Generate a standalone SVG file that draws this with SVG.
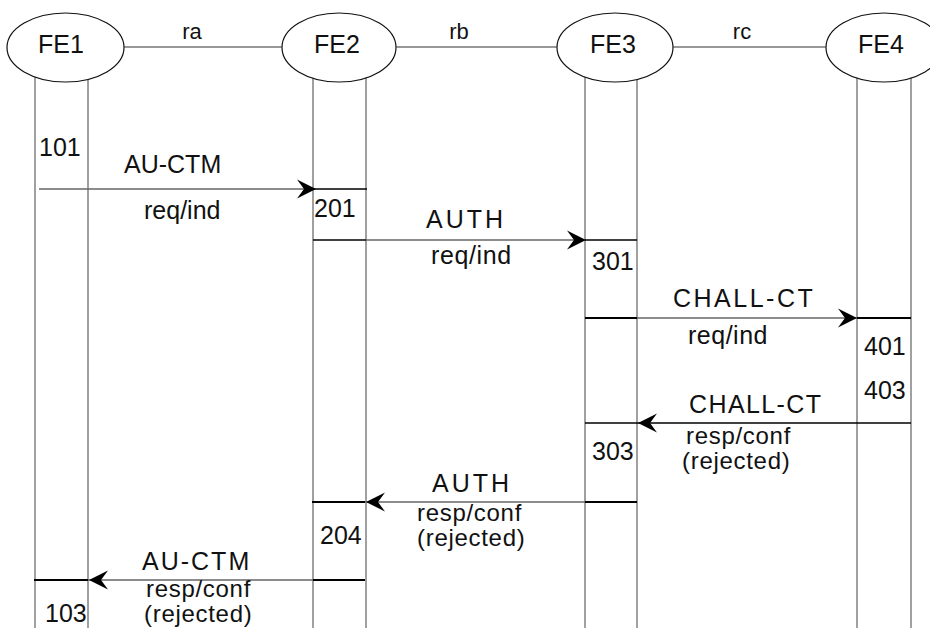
<svg xmlns="http://www.w3.org/2000/svg" width="930" height="628" viewBox="0 0 930 628">
  <style>
    text { font-family: "Liberation Sans", Arial, sans-serif; fill: #111; }
    .lbl { font-size: 25px; }
    .sm { font-size: 24px; letter-spacing: 0.7px; }
    .num { font-size: 25px; }
    .ref { font-size: 22px; text-anchor: middle; }
    .fe { font-size: 25px; text-anchor: middle; }
    .life { stroke: #808080; stroke-width: 1.5; fill: none; }
    .ell { fill: #fff; stroke: #111; stroke-width: 1.2; }
    .link { stroke: #333; stroke-width: 1.2; fill: none; }
    .msg { stroke: #666; stroke-width: 1.5; fill: none; }
    .blk { stroke: #000; stroke-width: 1.4; fill: none; }
    .blkw { stroke: #000; stroke-width: 2.2; fill: none; }
  </style>
  <defs>
    <path id="ahR" d="M0,0 L-19,-9.5 L-12,0 L-19,9.5 Z" fill="#000"/>
    <path id="ahL" d="M0,0 L19,-9.5 L12,0 L19,9.5 Z" fill="#000"/>
  </defs>
  <rect width="930" height="628" fill="#fff"/>

  <g id="FE1">
    <line class="life" x1="35" y1="70" x2="35" y2="628"/>
    <line class="life" x1="88" y1="70" x2="88" y2="628"/>
    <ellipse class="ell" cx="65.5" cy="47.5" rx="58.5" ry="34.5"/>
    <text class="fe" x="61" y="52.5">FE1</text>
  </g>
  <g id="FE2">
    <line class="life" x1="313" y1="70" x2="313" y2="628"/>
    <line class="life" x1="366" y1="70" x2="366" y2="628"/>
    <ellipse class="ell" cx="339" cy="47.5" rx="57" ry="34.5"/>
    <text class="fe" x="337" y="52.5">FE2</text>
  </g>
  <g id="FE3">
    <line class="life" x1="585" y1="70" x2="585" y2="628"/>
    <line class="life" x1="637" y1="70" x2="637" y2="628"/>
    <ellipse class="ell" cx="615" cy="47.5" rx="58" ry="34.5"/>
    <text class="fe" x="613" y="52.5">FE3</text>
  </g>
  <g id="FE4">
    <line class="life" x1="857" y1="70" x2="857" y2="628"/>
    <line class="life" x1="911" y1="70" x2="911" y2="628"/>
    <ellipse class="ell" cx="884" cy="47.5" rx="58" ry="34.5"/>
    <text class="fe" x="881" y="52.5">FE4</text>
  </g>

  <g id="connectors">
    <line class="link" x1="124" y1="47" x2="282" y2="47"/>
    <text class="ref" x="192" y="39">ra</text>
    <line class="link" x1="396" y1="47" x2="557" y2="47"/>
    <text class="ref" x="459" y="39">rb</text>
    <line class="link" x1="673" y1="47" x2="826" y2="47"/>
    <text class="ref" x="742" y="39">rc</text>

    <!-- AU-CTM req/ind -->
    <line class="msg" x1="39" y1="189" x2="313" y2="189"/>
    <line class="blk" x1="313" y1="189" x2="367" y2="189"/>
    <use href="#ahR" x="316" y="189"/>
    <!-- AUTH req/ind -->
    <line class="blk" x1="313" y1="240" x2="366" y2="240"/>
    <line class="msg" x1="366" y1="240" x2="585" y2="240"/>
    <line class="blk" x1="585" y1="240" x2="637" y2="240"/>
    <use href="#ahR" x="586" y="240"/>
    <!-- CHALL-CT req/ind -->
    <line class="blkw" x1="585" y1="318" x2="637" y2="318"/>
    <line class="msg" x1="637" y1="318" x2="857" y2="318"/>
    <line class="blkw" x1="857" y1="318" x2="911" y2="318"/>
    <use href="#ahR" x="857" y="318"/>
    <!-- CHALL-CT resp/conf -->
    <line class="blk" x1="585" y1="423" x2="911" y2="423"/>
    <use href="#ahL" x="638" y="423"/>
    <!-- AUTH resp/conf -->
    <line class="blkw" x1="312" y1="502" x2="365" y2="502"/>
    <line class="msg" x1="365" y1="502" x2="585" y2="502"/>
    <line class="blkw" x1="585" y1="502" x2="637" y2="502"/>
    <use href="#ahL" x="366" y="502"/>
    <!-- AU-CTM resp/conf -->
    <line class="blkw" x1="34" y1="580" x2="88" y2="580"/>
    <line class="msg" x1="88" y1="580" x2="313" y2="580"/>
    <line class="blkw" x1="313" y1="580" x2="365" y2="580"/>
    <use href="#ahL" x="89" y="580"/>

    <text class="lbl" x="124" y="173">AU-CTM</text>
    <text class="lbl" x="144" y="219">req/ind</text>
    <text class="lbl" x="426" y="228" letter-spacing="3">AUTH</text>
    <text class="lbl" x="431" y="264" letter-spacing="0.6">req/ind</text>
    <text class="lbl" x="673" y="307" letter-spacing="2.5">CHALL-CT</text>
    <text class="lbl" x="688" y="344" letter-spacing="0.5">req/ind</text>
    <text class="lbl" x="689" y="413" letter-spacing="1.4">CHALL-CT</text>
    <text class="sm" x="686" y="444">resp/conf</text>
    <text class="sm" x="682" y="469">(rejected)</text>
    <text class="lbl" x="432" y="492" letter-spacing="3">AUTH</text>
    <text class="sm" x="417" y="521">resp/conf</text>
    <text class="sm" x="417" y="546">(rejected)</text>
    <text class="lbl" x="142" y="570" letter-spacing="2">AU-CTM</text>
    <text class="sm" x="146" y="597">resp/conf</text>
    <text class="sm" x="144" y="622">(rejected)</text>
  </g>

  <g id="states">
    <text class="num" x="39" y="156">101</text>
    <text class="num" x="314" y="217">201</text>
    <text class="num" x="592" y="270">301</text>
    <text class="num" x="864" y="355">401</text>
    <text class="num" x="864" y="399">403</text>
    <text class="num" x="592" y="460">303</text>
    <text class="num" x="320" y="544">204</text>
    <text class="num" x="45" y="622">103</text>
  </g>
</svg>
